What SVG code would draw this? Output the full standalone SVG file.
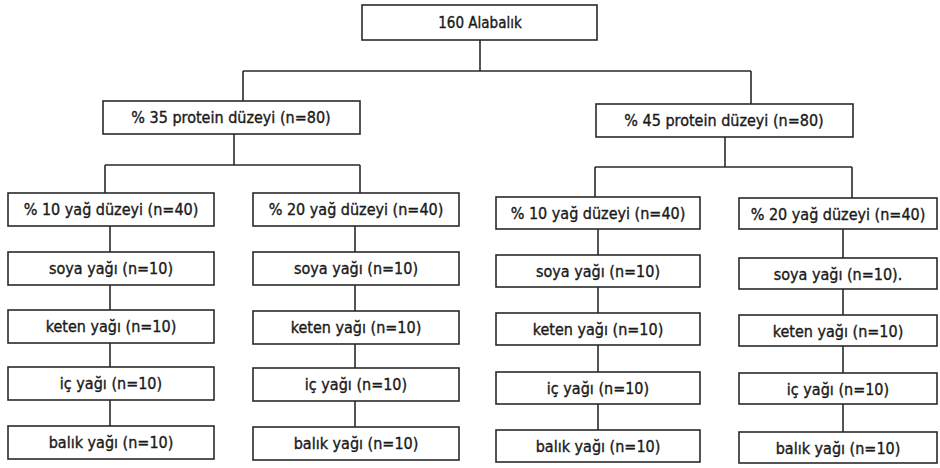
<svg xmlns="http://www.w3.org/2000/svg" width="940" height="468" viewBox="0 0 940 468">
<style>
.box{fill:#fff;stroke:#2a2a2a;stroke-width:1.6}
.lbl{font-family:"DejaVu Sans Condensed","DejaVu Sans",sans-serif;font-stretch:condensed;font-size:16px;fill:#1a1a1a;stroke:#1a1a1a;stroke-width:0.35;text-anchor:middle;dominant-baseline:central}
.con{fill:none;stroke:#2a2a2a;stroke-width:1.6}
</style>
<rect width="940" height="468" fill="#fff"/>
<g id="connectors" class="con">
<path d="M480 40V71M243 71H751M243 71V101M751 71V104"/>
<path d="M234 134V165M105 165H360M105 165V193M360 165V193"/>
<path d="M725 137V167M595 167H852M595 167V197M852 167V198"/>
<path d="M110 226V252M110 285V310M110 343V367M110 400V426"/>
<path d="M355 226V252M355 285V311M355 344V368M355 401V427"/>
<path d="M598 229V255M598 287V313M598 345V372M598 404V430"/>
<path d="M843 229V258M843 289V315M843 346V373M843 404V432"/>
</g>
<g id="root"><rect class="box" x="362" y="5" width="235" height="35"/><text class="lbl" x="480" y="23" style="font-size:15px">160 Alabalık</text></g>
<g id="p35"><rect class="box" x="103" y="101" width="257" height="33"/><text class="lbl" x="231" y="117">% 35 protein düzeyi (n=80)</text></g>
<g id="p45"><rect class="box" x="596" y="104" width="257" height="33"/><text class="lbl" x="724" y="120">% 45 protein düzeyi (n=80)</text></g>

<g id="l1"><rect class="box" x="8" y="193" width="206" height="33"/><text class="lbl" x="111" y="209">% 10 yağ düzeyi (n=40)</text></g>
<g id="l1a"><rect class="box" x="8" y="252" width="206" height="33"/><text class="lbl" x="111" y="268">soya yağı (n=10)</text></g>
<g id="l1b"><rect class="box" x="8" y="310" width="206" height="33"/><text class="lbl" x="111" y="326">keten yağı (n=10)</text></g>
<g id="l1c"><rect class="box" x="8" y="367" width="206" height="33"/><text class="lbl" x="111" y="383">iç yağı (n=10)</text></g>
<g id="l1d"><rect class="box" x="8" y="426" width="206" height="33"/><text class="lbl" x="111" y="442">balık yağı (n=10)</text></g>

<g id="l2"><rect class="box" x="253" y="193" width="206" height="33"/><text class="lbl" x="356" y="209">% 20 yağ düzeyi (n=40)</text></g>
<g id="l2a"><rect class="box" x="253" y="252" width="206" height="33"/><text class="lbl" x="356" y="268">soya yağı (n=10)</text></g>
<g id="l2b"><rect class="box" x="253" y="311" width="206" height="33"/><text class="lbl" x="356" y="327">keten yağı (n=10)</text></g>
<g id="l2c"><rect class="box" x="253" y="368" width="206" height="33"/><text class="lbl" x="356" y="384">iç yağı (n=10)</text></g>
<g id="l2d"><rect class="box" x="253" y="427" width="206" height="33"/><text class="lbl" x="356" y="443">balık yağı (n=10)</text></g>

<g id="r1"><rect class="box" x="496" y="197" width="204" height="32"/><text class="lbl" x="598" y="213">% 10 yağ düzeyi (n=40)</text></g>
<g id="r1a"><rect class="box" x="496" y="255" width="204" height="32"/><text class="lbl" x="598" y="271">soya yağı (n=10)</text></g>
<g id="r1b"><rect class="box" x="496" y="313" width="204" height="32"/><text class="lbl" x="598" y="329">keten yağı (n=10)</text></g>
<g id="r1c"><rect class="box" x="496" y="372" width="204" height="32"/><text class="lbl" x="598" y="388">iç yağı (n=10)</text></g>
<g id="r1d"><rect class="box" x="496" y="430" width="204" height="32"/><text class="lbl" x="598" y="446">balık yağı (n=10)</text></g>

<g id="r2"><rect class="box" x="739" y="198" width="198" height="31"/><text class="lbl" x="838" y="214">% 20 yağ düzeyi (n=40)</text></g>
<g id="r2a"><rect class="box" x="739" y="258" width="198" height="31"/><text class="lbl" x="838" y="274">soya yağı (n=10).</text></g>
<g id="r2b"><rect class="box" x="739" y="315" width="198" height="31"/><text class="lbl" x="838" y="331">keten yağı (n=10)</text></g>
<g id="r2c"><rect class="box" x="739" y="373" width="198" height="31"/><text class="lbl" x="838" y="389">iç yağı (n=10)</text></g>
<g id="r2d"><rect class="box" x="739" y="432" width="198" height="31"/><text class="lbl" x="838" y="448">balık yağı (n=10)</text></g>
</svg>
